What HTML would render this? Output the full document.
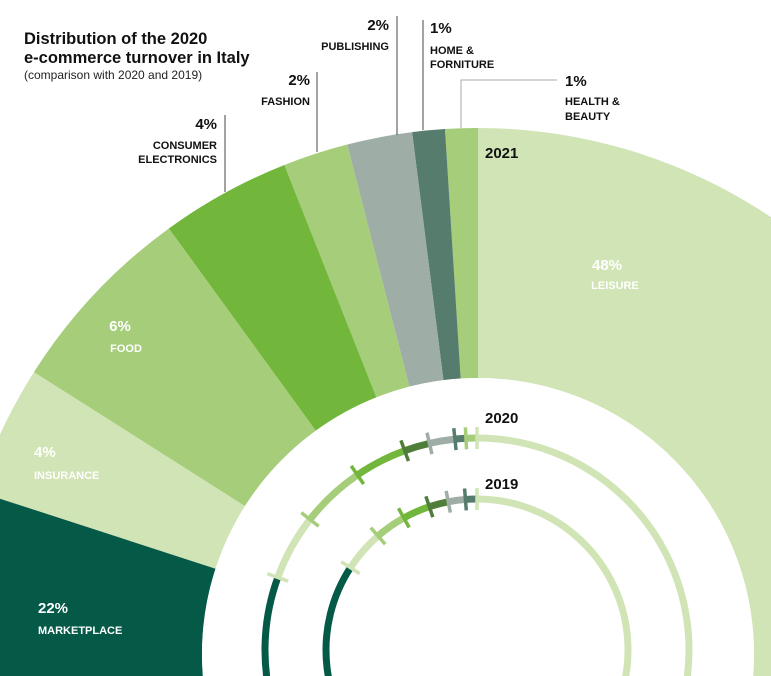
<!DOCTYPE html>
<html><head><meta charset="utf-8">
<style>
html,body{margin:0;padding:0;background:#fff;overflow:hidden;}
svg{display:block;font-family:"Liberation Sans",sans-serif;}
.t{font-weight:bold;fill:#111;}
.lb{font-weight:bold;fill:#111;font-size:11px;}
.pc{font-weight:bold;fill:#111;font-size:15px;}
.w{fill:#fff;font-weight:bold;}
</style></head>
<body>
<svg id="chart" width="771" height="676" viewBox="0 0 771 676">
  <g id="slices"></g>
  <circle cx="478" cy="654" r="276" fill="#fff"></circle>
  <g id="rings"></g>

  <text x="24" y="44" class="t" font-size="16.5">Distribution of the 2020</text>
  <text x="24" y="63" class="t" font-size="16.5">e-commerce turnover in Italy</text>
  <text x="24" y="79" font-size="12" fill="#222">(comparison with 2020 and 2019)</text>

  <g stroke="#444" stroke-width="1">
    <line x1="225" y1="115" x2="225" y2="192"/>
    <line x1="317" y1="72" x2="317" y2="152"/>
    <line x1="397" y1="16" x2="397" y2="135"/>
    <line x1="423" y1="20" x2="423" y2="130"/>
    <polyline points="461,128 461,80 557,80" fill="none" stroke="#aaa"/>
  </g>

  <g>
    <text x="217" y="129" class="pc" text-anchor="end">4%</text>
    <text x="217" y="149" class="lb" text-anchor="end">CONSUMER</text>
    <text x="217" y="163" class="lb" text-anchor="end">ELECTRONICS</text>
  </g>
  <g>
    <text x="310" y="85" class="pc" text-anchor="end">2%</text>
    <text x="310" y="105" class="lb" text-anchor="end">FASHION</text>
  </g>
  <g>
    <text x="389" y="30" class="pc" text-anchor="end">2%</text>
    <text x="389" y="50" class="lb" text-anchor="end">PUBLISHING</text>
  </g>
  <g>
    <text x="430" y="33" class="pc">1%</text>
    <text x="430" y="54" class="lb">HOME &amp;</text>
    <text x="430" y="68" class="lb">FORNITURE</text>
  </g>
  <g>
    <text x="565" y="86" class="pc">1%</text>
    <text x="565" y="105" class="lb">HEALTH &amp;</text>
    <text x="565" y="120" class="lb">BEAUTY</text>
  </g>
  <text x="485" y="158" class="pc">2021</text>
  <text x="485" y="423" class="pc">2020</text>
  <text x="485" y="489" class="pc">2019</text>

  <g>
    <text x="607" y="270" class="w" font-size="15" text-anchor="middle">48%</text>
    <text x="615" y="289" class="w" font-size="11" text-anchor="middle">LEISURE</text>
  </g>
  <g>
    <text x="120" y="331" class="w" font-size="15" text-anchor="middle">6%</text>
    <text x="126" y="352" class="w" font-size="11" text-anchor="middle">FOOD</text>
  </g>
  <g>
    <text x="34" y="457" class="w" font-size="15">4%</text>
    <text x="34" y="479" class="w" font-size="11">INSURANCE</text>
  </g>
  <g>
    <text x="38" y="613" class="w" font-size="15">22%</text>
    <text x="38" y="634" class="w" font-size="11">MARKETPLACE</text>
  </g>
</svg>
<script>
// categories counter-clockwise from top (leisure goes clockwise)
const categories = ["health","home","publishing","fashion","electronics","food","insurance","marketplace"];
const values2021 = [1, 1, 2, 2, 4, 6, 4, 22];
const values2020 = [0.83, 0.83, 1.94, 1.94, 4.0, 4.9, 5.0, 22];
const values2019 = [0, 1.22, 1.83, 2.06, 2.94, 3.33, 4.44, 22];
const leisure2021 = 48, leisure2020 = 48, leisure2019 = 48;

const sliceColors = ["#a6cd7a","#567c6e","#9eada5","#a6cd7a","#72b73b","#a6cd7a","#d0e4b5","#055947"];
const ringColors  = ["#a6cd7a","#567c6e","#9eada5","#4f7d3a","#72b73b","#a6cd7a","#d0e4b5","#055947"];
const leisureColor = "#d0e4b5";

const NS = "http://www.w3.org/2000/svg";
function ang(p){ return p * 3.6 * Math.PI / 180; }
function pt(cx, cy, r, a){ return [cx + r*Math.sin(a), cy - r*Math.cos(a)]; }
function sector(cx, cy, r0, r1, a0, a1){
  const lo=Math.min(a0,a1), hi=Math.max(a0,a1), lg=(hi-lo)>Math.PI?1:0;
  const p1=pt(cx,cy,r1,lo),p2=pt(cx,cy,r1,hi),p3=pt(cx,cy,r0,hi),p4=pt(cx,cy,r0,lo);
  return `M${p1}A${r1},${r1} 0 ${lg} 1 ${p2}L${p3}A${r0},${r0} 0 ${lg} 0 ${p4}Z`;
}
function arc(cx, cy, r, a0, a1){
  const lo=Math.min(a0,a1), hi=Math.max(a0,a1), lg=(hi-lo)>Math.PI?1:0;
  return `M${pt(cx,cy,r,lo)}A${r},${r} 0 ${lg} 1 ${pt(cx,cy,r,hi)}`;
}
const sg = document.getElementById('slices');
let p = document.createElementNS(NS,'path');
p.setAttribute('d', sector(478, 654, 276, 526, 0, ang(leisure2021)));
p.setAttribute('fill', leisureColor);


sg.appendChild(p);
let acc = 0;
values2021.forEach((v,i)=>{
  const a0=-ang(acc), a1=-ang(acc+v); acc+=v;
  const s=document.createElementNS(NS,'path');
  s.setAttribute('d', sector(478, 654, 276, 526, a0, a1));
  s.setAttribute('fill', sliceColors[i]);
  
  
  sg.appendChild(s);
});
const rg = document.getElementById('rings');
function tick(cx, cy, r, a, color, year){
  const t=document.createElementNS(NS,'line');
  const q0=pt(cx,cy,r-11,a), q1=pt(cx,cy,r+11,a);
  t.setAttribute('x1',q0[0]);t.setAttribute('y1',q0[1]);t.setAttribute('x2',q1[0]);t.setAttribute('y2',q1[1]);
  t.setAttribute('stroke', color); t.setAttribute('stroke-width', 3.5);
  
  
  rg.appendChild(t);
}
function ring(cx, cy, r, vals, leis, year){
  const l=document.createElementNS(NS,'path');
  l.setAttribute('d', arc(cx, cy, r, 0, ang(leis)));
  l.setAttribute('stroke', leisureColor); l.setAttribute('stroke-width', 7); l.setAttribute('fill','none');
  
  
  rg.appendChild(l);
  let a=0;
  vals.forEach((v,i)=>{
    if (v <= 0) return;
    const a0=-ang(a), a1=-ang(a+v); a+=v;
    const s=document.createElementNS(NS,'path');
    s.setAttribute('d', arc(cx, cy, r, a0, a1));
    s.setAttribute('stroke', ringColors[i]); s.setAttribute('stroke-width', 7); s.setAttribute('fill','none');
    
    
    rg.appendChild(s);
  });
  tick(cx, cy, r, 0, leisureColor, year);
  a=0;
  vals.forEach((v,i)=>{
    a+=v;
    if (v <= 0 || i === vals.length-1) return;
    tick(cx, cy, r, -ang(a), ringColors[i], year);
  });
}
ring(477, 650, 212, values2020, leisure2020, '2020');
ring(477, 650, 151, values2019, leisure2019, '2019');
</script>
</body></html>
